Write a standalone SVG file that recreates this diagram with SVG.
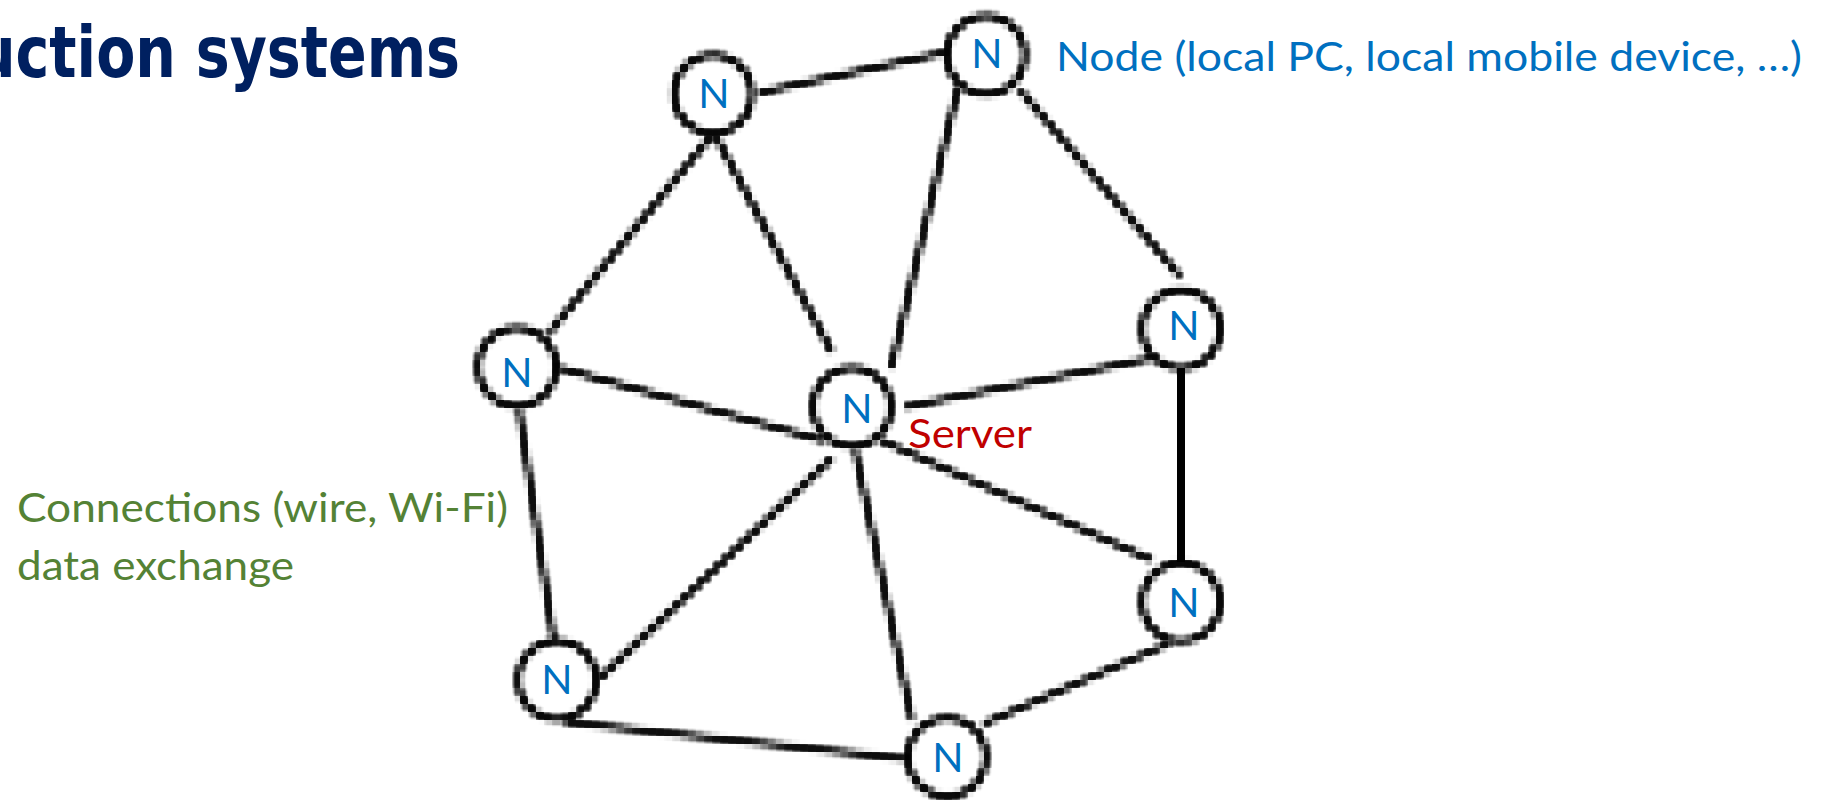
<svg xmlns="http://www.w3.org/2000/svg" width="1833" height="803" viewBox="0 0 1833 803">
<style>
text{font-family:Lato,"Liberation Sans",sans-serif}
.l{stroke:#000;stroke-width:5.5;fill:none}
.c{fill:none;stroke:#000;stroke-width:6;filter:url(#px)}
.n{fill:#0070c0;font-size:41px;text-anchor:middle}
.t{font-size:41px}
</style>
<defs>
<filter id="px" filterUnits="userSpaceOnUse" primitiveUnits="userSpaceOnUse" x="0" y="0" width="1833" height="803" color-interpolation-filters="sRGB">
<feGaussianBlur in="SourceGraphic" stdDeviation="1.6" result="b"/>
<feFlood x="2" y="2" width="4" height="4" flood-color="#000"/>
<feComposite x="0" y="0" width="8" height="8"/>
<feTile x="0" y="0" width="1833" height="803" result="a"/>
<feComposite in="b" in2="a" operator="in"/>
<feMorphology operator="dilate" radius="2"/>
</filter>
</defs>
<rect width="1833" height="803" fill="#fff"/>
<text id="title" x="-25" y="77" font-size="72" font-weight="700" fill="#002060" style="font-family:'DejaVu Sans',sans-serif;font-stretch:condensed" textLength="485" lengthAdjust="spacingAndGlyphs">uction systems</text>
<g id="connectors">
<g filter="url(#px)">
<line class="l" x1="758" y1="93" x2="947" y2="52"/>
<line class="l" x1="712" y1="135" x2="549" y2="333"/>
<line class="l" x1="715" y1="135" x2="832" y2="352"/>
<line class="l" x1="958" y1="88" x2="891" y2="368"/>
<line class="l" x1="1020" y1="90" x2="1180" y2="276"/>
<line class="l" x1="1153" y1="358" x2="905" y2="407"/>
<line class="l" x1="880" y1="440" x2="1152" y2="560"/>
<line class="l" x1="1170" y1="643" x2="983" y2="724"/>
<line class="l" x1="855" y1="450" x2="912" y2="720"/>
<line class="l" x1="556" y1="367" x2="825" y2="441"/>
<line class="l" x1="832" y1="458" x2="600" y2="678"/>
<line class="l" x1="519" y1="410" x2="554" y2="642"/>
<line class="l" x1="565" y1="722" x2="908" y2="759"/>
</g>
<line x1="1181" y1="368" x2="1181" y2="562" stroke="#000" stroke-width="8"/>
</g>
<g id="node-top-left"><circle class="c" cx="713" cy="94" r="39"/><text class="n" x="714" y="108">N</text></g>
<g id="node-top"><circle class="c" cx="986" cy="55" r="39"/><text class="n" x="987" y="68">N</text></g>
<g id="node-right-top"><circle class="c" cx="1181" cy="329" r="39"/><text class="n" x="1184" y="340">N</text></g>
<g id="node-left"><circle class="c" cx="517" cy="367" r="39"/><text class="n" x="517" y="387">N</text></g>
<g id="node-server"><circle class="c" cx="852" cy="407" r="39"/><text class="n" x="857" y="423">N</text></g>
<g id="node-right-bottom"><circle class="c" cx="1181" cy="602" r="39"/><text class="n" x="1184" y="617">N</text></g>
<g id="node-bottom-left"><circle class="c" cx="557" cy="680" r="39"/><text class="n" x="557" y="694">N</text></g>
<g id="node-bottom"><circle class="c" cx="947" cy="757" r="39"/><text class="n" x="948" y="772">N</text></g>
<text class="t" x="1056" y="71" fill="#0070c0" textLength="746" lengthAdjust="spacingAndGlyphs">Node (local PC, local mobile device, …)</text>
<text class="t" x="908" y="448" fill="#c00000" textLength="124" lengthAdjust="spacingAndGlyphs">Server</text>
<text class="t" x="17" y="522" fill="#548235" textLength="491" lengthAdjust="spacingAndGlyphs">Connections (wire, Wi-Fi)</text>
<text class="t" x="17" y="580" fill="#548235" textLength="277" lengthAdjust="spacingAndGlyphs">data exchange</text>
</svg>
